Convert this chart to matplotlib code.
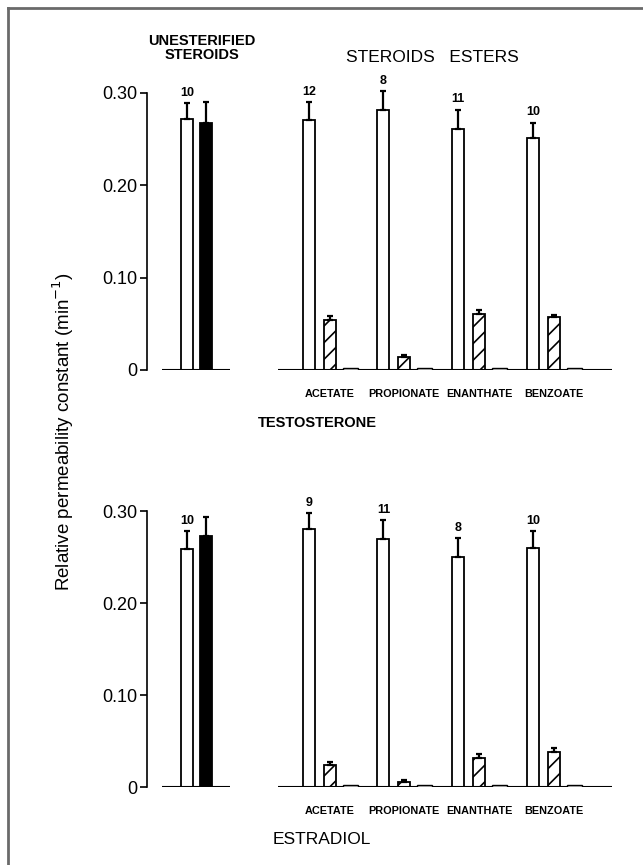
import matplotlib
matplotlib.use("Agg")
import matplotlib.pyplot as plt
from matplotlib.lines import Line2D

plt.rcParams['font.family'] = ['Liberation Sans', 'DejaVu Sans']
plt.rcParams['hatch.linewidth'] = 1.2

esters = ['ACETATE', 'PROPIONATE', 'ENANTHATE', 'BENZOATE']

# testosterone
testo_free = [0.272, 0.268]
testo_free_err = [0.017, 0.022]
testo_free_n = 10
testo_ester = [0.271, 0.282, 0.261, 0.251]
testo_ester_err = [0.019, 0.020, 0.021, 0.017]
testo_ester_n = [12, 8, 11, 10]
testo_hatch = [0.054, 0.014, 0.061, 0.057]
testo_hatch_err = [0.004, 0.002, 0.004, 0.003]
testo_flat = [0.002, 0.002, 0.002, 0.002]

# estradiol
estra_free = [0.259, 0.273]
estra_free_err = [0.019, 0.021]
estra_free_n = 10
estra_ester = [0.280, 0.270, 0.250, 0.260]
estra_ester_err = [0.018, 0.020, 0.021, 0.018]
estra_ester_n = [9, 11, 8, 10]
estra_hatch = [0.024, 0.005, 0.031, 0.038]
estra_hatch_err = [0.0035, 0.003, 0.005, 0.004]
estra_flat = [0.002, 0.002, 0.002, 0.002]

yticks = [0, 0.10, 0.20, 0.30]
yticklabels = ['0', '0.10', '0.20', '0.30']


def upper_err(err):
    return [[0] * len(err), err]


def draw_panel(ax, free, free_err, free_n, ester, ester_err, ester_n, hatch, hatch_err, flat):
    w = 0.16
    ekw = dict(ecolor='k', elinewidth=1.6, capsize=2.2, capthick=1.6)
    # unesterified pair
    ax.bar([-0.13], [free[0]], w, color='white', edgecolor='k', linewidth=1.3,
           yerr=upper_err([free_err[0]]), error_kw=ekw, zorder=3)
    ax.bar([0.13], [free[1]], w, color='k', edgecolor='k', linewidth=1.3,
           yerr=upper_err([free_err[1]]), error_kw=ekw, zorder=3)
    ax.annotate(str(free_n), (-0.13, free[0] + free_err[0]), xytext=(0, 3),
                textcoords='offset points', ha='center', va='bottom',
                fontsize=9, fontweight='bold')
    # esters
    centers = [1.78 + i for i in range(len(esters))]
    xw = [c - 0.28 for c in centers]
    xf = [c + 0.275 for c in centers]
    ax.bar(xw, ester, w, color='white', edgecolor='k', linewidth=1.3,
           yerr=upper_err(ester_err), error_kw=ekw, zorder=3)
    ax.bar(centers, hatch, w, color='white', edgecolor='k', linewidth=1.3,
           hatch='//', yerr=upper_err(hatch_err), error_kw=ekw, zorder=3)
    ax.bar(xf, flat, 0.2, color='white', edgecolor='k', linewidth=1.0, zorder=5)
    for x, v, e, n in zip(xw, ester, ester_err, ester_n):
        ax.annotate(str(n), (x, v + e), xytext=(0, 3), textcoords='offset points',
                    ha='center', va='bottom', fontsize=9, fontweight='bold')
    for c, name in zip(centers, esters):
        ax.annotate(name, (c, 0), xytext=(0, -17), textcoords='offset points',
                    ha='center', va='center', fontsize=7.8, fontweight='bold')
    # baselines
    ax.hlines(0, -0.465, 0.445, color='k', linewidth=1.5, zorder=4)
    ax.hlines(0, 1.09, 5.56, color='k', linewidth=1.5, zorder=4)

    ax.set_xlim(-0.665, 5.6)
    ax.set_ylim(0, 0.32)
    for s in ['top', 'right', 'bottom']:
        ax.spines[s].set_visible(False)
    ax.spines['left'].set_bounds(0, 0.30)
    ax.spines['left'].set_linewidth(1.2)
    ax.set_xticks([])
    ax.set_yticks(yticks)
    ax.set_yticklabels(yticklabels)
    ax.tick_params(axis='y', length=5, width=1.2, labelsize=13, pad=2)


fig = plt.figure(figsize=(6.43, 8.65), dpi=100)
W, H = 643.0, 865.0

ax1 = fig.add_axes([147 / W, 1 - 370 / H, 468 / W, 295.5 / H])
draw_panel(ax1, testo_free, testo_free_err, testo_free_n, testo_ester,
           testo_ester_err, testo_ester_n, testo_hatch, testo_hatch_err, testo_flat)

ax2 = fig.add_axes([147 / W, 1 - 787 / H, 468 / W, 294.4 / H])
draw_panel(ax2, estra_free, estra_free_err, estra_free_n, estra_ester,
           estra_ester_err, estra_ester_n, estra_hatch, estra_hatch_err, estra_flat)

fig.text(202 / W, 1 - 48 / H, 'UNESTERIFIED\nSTEROIDS', ha='center', va='center',
         fontsize=10.5, fontweight='bold', linespacing=1.05)
fig.text(432 / W, 1 - 57 / H, 'STEROIDS   ESTERS', ha='center', va='center',
         fontsize=12.5)
fig.text(317 / W, 1 - 423 / H, 'TESTOSTERONE', ha='center', va='center',
         fontsize=10.5, fontweight='bold')
fig.text(322 / W, 1 - 839 / H, 'ESTRADIOL', ha='center', va='center',
         fontsize=12.5)
fig.text(63 / W, 1 - 432 / H, 'Relative permeability constant (min$^{-1}$)',
         ha='center', va='center', rotation=90, fontsize=13.5)

# page frame (left and top edges)
frame_col = '#6a6a6a'
fig.add_artist(Line2D([8 / W, 8 / W], [0, 1 - 8 / H], color=frame_col, linewidth=2,
                      transform=fig.transFigure))
fig.add_artist(Line2D([8 / W, 1], [1 - 8 / H, 1 - 8 / H], color=frame_col, linewidth=2,
                      transform=fig.transFigure))

fig.savefig('out.png', dpi=100)
